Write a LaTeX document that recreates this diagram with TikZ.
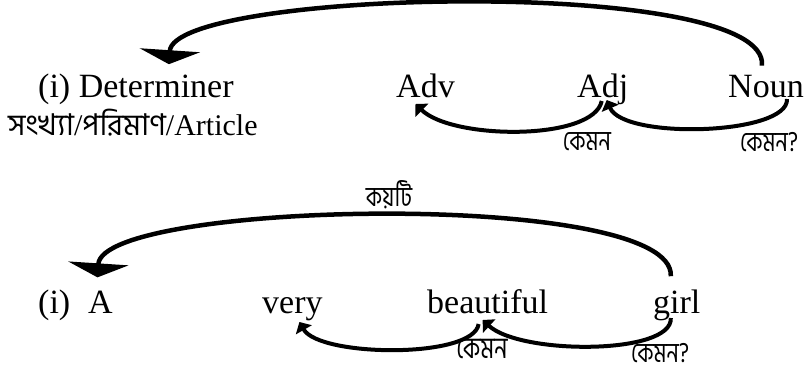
\documentclass[tikz,border=0pt]{standalone}
\usepackage{fontspec}
\setmainfont{Liberation Serif}
\newfontfamily\bnfont[Script=Bengali]{Hind Siliguri}
\newfontfamily\bnnarrow[Script=Bengali,FakeStretch=0.78]{Hind Siliguri}
\usetikzlibrary{arrows.meta}
\tikzset{
  word/.style={inner sep=0pt, anchor=base west, font=\fontsize{34}{40}\selectfont},
  gloss/.style={inner sep=0pt, anchor=base, text depth=0pt, font=\bnnarrow\fontsize{28}{32}\selectfont},
  bigarrow/.style={line width=4.5pt, -{Triangle[width=60pt,length=14pt]}},
  smallarrow/.style={line width=4pt, -{Triangle[width=18pt,length=9pt]}}
}
\begin{document}
\begin{tikzpicture}[x=1pt,y=-1pt]
    \useasboundingbox (0,0) rectangle (810,372);
    \node [word] (det) at (38,97) {(i) Determiner};
    \node [word, font=\fontsize{30}{36}\selectfont] (kind) at (8,135) {{\bnfont সংখ্যা}/{\bnfont পরিমাণ}/Article};
    \node [word] (adv) at (396,97) {Adv};
    \node [word] (adj) at (577,97) {Adj};
    \node [word] (noun) at (728,97) {Noun};
    \node [gloss] (how1) at (587,150) {কেমন};
    \node [gloss] (how2) at (769,151) {কেমন?};
    \draw [bigarrow] ([xshift=-4pt,yshift=9pt]noun.north) .. controls +(8,-90) and +(5,-75) .. ([xshift=33pt,yshift=9pt]det.north);
    \draw [smallarrow] ([xshift=21pt,yshift=-2pt]noun.base) .. controls +(2,36) and +(17,40) .. ([xshift=4pt,yshift=-3pt]adj.base);
    \draw [smallarrow] ([xshift=-1pt,yshift=-4pt]adj.base) .. controls +(-8,40) and +(37,36) .. ([xshift=-10pt,yshift=-7pt]adv.base);
    \node [word] (num) at (38,313) {(i)};
    \node [word] (art) at (88,313) {A};
    \node [word] (very) at (262,313) {very};
    \node [word] (beaut) at (427,313) {beautiful};
    \node [word] (girl) at (653,313) {girl};
    \node [gloss] (many) at (389,206) {কয়টি};
    \node [gloss, font=\bnnarrow\fontsize{30}{34}\selectfont] (how3) at (482,358) {কেমন};
    \node [gloss] (how4) at (660,362) {কেমন?};
    \draw [bigarrow] ([xshift=-6pt,yshift=13pt]girl.north) .. controls +(5,-87) and +(5,-77) .. ([xshift=-3pt,yshift=13pt]art.north);
    \draw [smallarrow] ([xshift=-6pt,yshift=-5pt]girl.base) .. controls +(2,37) and +(38,35) .. ([xshift=-5pt,yshift=-7pt]beaut.base);
    \draw [smallarrow] ([xshift=-9pt,yshift=-11pt]beaut.base) .. controls +(-5,35) and +(20,35) .. ([xshift=7pt,yshift=-9pt]very.base);
\end{tikzpicture}
\end{document}
